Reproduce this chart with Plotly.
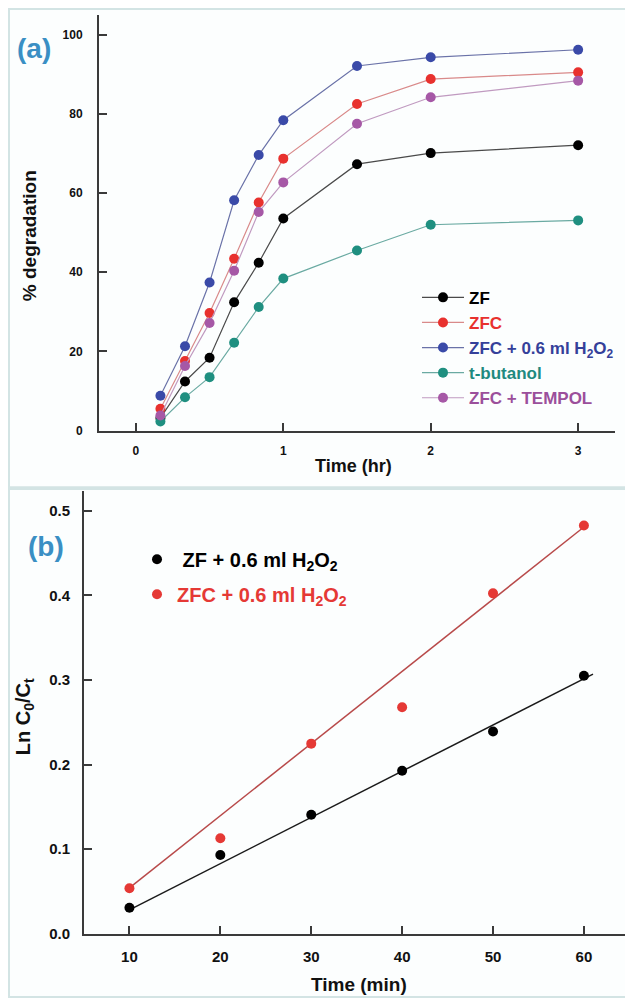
import plotly.graph_objects as go

# page body has an 8px margin, so the figure is sized to fit the window
OFF = 8
W, H = 633 - OFF, 1007 - OFF

# ---------------- data: panel (a) ----------------
time_hr = [1/6, 1/3, 0.5, 2/3, 5/6, 1.0, 1.5, 2.0, 3.0]
zf = [3.2, 12.4, 18.4, 32.4, 42.4, 53.6, 67.3, 70.1, 72.1]
zfc = [5.5, 17.6, 29.7, 43.4, 57.6, 68.7, 82.5, 88.8, 90.5]
zfc_h2o2 = [8.8, 21.3, 37.4, 58.2, 69.6, 78.4, 92.1, 94.3, 96.2]
t_butanol = [2.3, 8.4, 13.5, 22.2, 31.2, 38.4, 45.5, 52.0, 53.1]
zfc_tempol = [3.8, 16.3, 27.2, 40.4, 55.2, 62.7, 77.5, 84.2, 88.4]
a_xticks = [0, 1, 2, 3]
a_yticks = [0, 20, 40, 60, 80, 100]

# ---------------- data: panel (b) ----------------
time_min = [10, 20, 30, 40, 50, 60]
zf_ln = [0.0305, 0.093, 0.1406, 0.1926, 0.239, 0.305]
zfc_ln = [0.0536, 0.1128, 0.2247, 0.2678, 0.4025, 0.4828]
zf_fit_x = [10, 61]
zf_fit_y = [0.028, 0.307]
zfc_fit_x = [10, 60]
zfc_fit_y = [0.054, 0.481]
b_xticks = [10, 20, 30, 40, 50, 60]
b_yticks = [0.0, 0.1, 0.2, 0.3, 0.4, 0.5]


def px_x(p):
    return (p - OFF) / W


def px_y(p):
    return 1 - (p - OFF) / H


FONT = "Liberation Sans, Arial, sans-serif"

fig = go.Figure()

series_a = [
    ("ZF", zf, "#000000", "#4a4a4a", "#000000"),
    ("ZFC", zfc, "#e8312e", "#d98a8a", "#e8312e"),
    ("ZFC + 0.6 ml H<sub>2</sub>O<sub>2</sub>", zfc_h2o2, "#3a4aa8", "#6a72a8", "#34409a"),
    ("t-butanol", t_butanol, "#1f8f80", "#6aaaa2", "#1f8a80"),
    ("ZFC + TEMPOL", zfc_tempol, "#a658a6", "#c09ac0", "#9b4f9b"),
]
for i, (name, ys, mc, lc, tc) in enumerate(series_a):
    fig.add_trace(go.Scatter(
        x=time_hr, y=ys, mode="lines+markers",
        name=f"<span style='color:{tc}'>{name}</span>",
        legendgroup=f"a{i}",
        marker=dict(color=mc, size=10),
        line=dict(color=lc, width=1.2),
        xaxis="x", yaxis="y", legend="legend",
    ))

# panel (b)
fig.add_trace(go.Scatter(
    x=zf_fit_x, y=zf_fit_y, mode="lines", showlegend=False,
    line=dict(color="#1a1a1a", width=1.5), xaxis="x2", yaxis="y2"))
fig.add_trace(go.Scatter(
    x=zfc_fit_x, y=zfc_fit_y, mode="lines", showlegend=False,
    line=dict(color="#b84a4a", width=1.5), xaxis="x2", yaxis="y2"))
fig.add_trace(go.Scatter(
    x=time_min, y=zf_ln, mode="markers",
    name="<span style='color:#000000'>&nbsp;ZF + 0.6 ml H<sub>2</sub>O<sub>2</sub></span>",
    legendgroup="b0",
    marker=dict(color="#000000", size=10), xaxis="x2", yaxis="y2", legend="legend2"))
fig.add_trace(go.Scatter(
    x=time_min, y=zfc_ln, mode="markers",
    name="<span style='color:#e53935'>ZFC + 0.6 ml H<sub>2</sub>O<sub>2</sub></span>",
    legendgroup="b1",
    marker=dict(color="#e53935", size=10), xaxis="x2", yaxis="y2", legend="legend2"))

axis_common = dict(
    showline=True, linecolor="#3a3a3a", linewidth=2,
    ticks="inside", ticklen=8, tickcolor="#3a3a3a", tickwidth=1.5,
    showgrid=False, zeroline=False, mirror=False,
)

fig.update_layout(
    width=W, height=H,
    margin=dict(l=0, r=0, t=0, b=0),
    paper_bgcolor="white", plot_bgcolor="rgba(0,0,0,0)",
    font=dict(family=FONT, color="#111111"),
    xaxis=dict(domain=[px_x(99), px_x(615)], range=[-0.25, 3.25],
               tickvals=a_xticks, anchor="y", ticklabelstandoff=8,
               tickfont=dict(size=12, weight="bold", color="#111"), **axis_common),
    yaxis=dict(domain=[px_y(434), px_y(15)], range=[0, 105],
               tickvals=a_yticks, anchor="x", ticklabelstandoff=12,
               tickfont=dict(size=12, weight="bold", color="#111"), **axis_common),
    xaxis2=dict(domain=[px_x(84), 1.0], range=[5, 65.4],
                tickvals=b_xticks, anchor="y2", ticklabelstandoff=8,
                tickfont=dict(size=15, weight="bold", color="#111"), **axis_common),
    yaxis2=dict(domain=[px_y(941), px_y(495)], range=[0, 0.5235],
                tickvals=b_yticks, tickformat=".1f", anchor="x2", ticklabelstandoff=9,
                tickfont=dict(size=15, weight="bold", color="#111"), **axis_common),
    legend=dict(x=px_x(417), y=px_y(282), xanchor="left", yanchor="top",
                bgcolor="rgba(0,0,0,0)", itemwidth=42, tracegroupgap=0,
                traceorder="grouped",
                font=dict(family=FONT, size=17, weight="bold")),
    legend2=dict(x=px_x(137), y=px_y(544), xanchor="left", yanchor="top",
                 bgcolor="rgba(0,0,0,0)", tracegroupgap=6, traceorder="grouped",
                 font=dict(family=FONT, size=20, weight="bold")),
    showlegend=True,
)

# light panel frames
for (x0, y0, x1, y1) in [(9, 9, 628, 491), (9, 493, 628, 1005)]:
    fig.add_shape(type="rect", xref="paper", yref="paper",
                  x0=px_x(x0), x1=px_x(x1), y0=px_y(y1), y1=px_y(y0),
                  line=dict(color="#d3e4e4", width=2), fillcolor="#fcfefe",
                  layer="below")

ann = [
    dict(text="(a)", x=px_x(34), y=px_y(49), font=dict(size=28, color="#3a8fc4", weight="bold")),
    dict(text="(b)", x=px_x(46), y=px_y(551), font=dict(size=28, color="#3a8fc4", weight="bold")),
    dict(text="% degradation", x=px_x(29), y=px_y(238), textangle=-90,
         font=dict(size=19, color="#111", weight="bold")),
    dict(text="Time (hr)", x=px_x(353), y=px_y(470),
         font=dict(size=18, color="#111", weight="bold")),
    dict(text="Ln C<sub>0</sub>/C<sub>t</sub>", x=px_x(24), y=px_y(723), textangle=-90,
         font=dict(size=20, color="#111", weight="bold")),
    dict(text="Time (min)", x=px_x(359), y=px_y(992),
         font=dict(size=19, color="#111", weight="bold")),
]
for a in ann:
    fig.add_annotation(xref="paper", yref="paper", showarrow=False,
                       xanchor="center", yanchor="middle", **a)

fig.write_html("out.html")
